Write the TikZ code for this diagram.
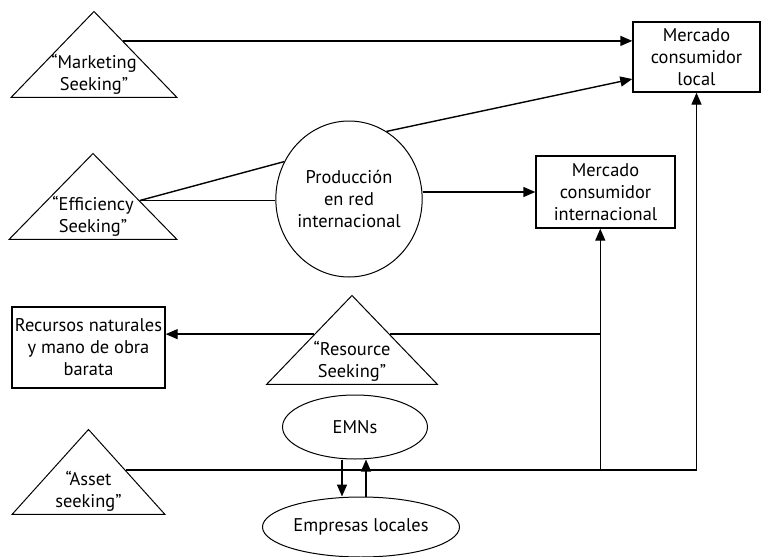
\documentclass[tikz,border=0pt]{standalone}
\usepackage{fontspec}
\setmainfont{PT Sans}
\usetikzlibrary{shapes.geometric,arrows.meta,calc}
\tikzset{
  tri/.style={draw,line width=0.5pt,isosceles triangle,isosceles triangle stretches,
    shape border rotate=90,inner sep=0pt,anchor=south},
  txt/.style={align=center,inner sep=0pt,font=\fontsize{9.2}{11}\selectfont},
  boxnode/.style={draw,line width=0.7pt,align=center,inner sep=0pt,font=\fontsize{9.2}{11}\selectfont},
  ellnode/.style={draw,line width=0.5pt,ellipse,align=center,inner sep=0pt,font=\fontsize{9.2}{11}\selectfont},
  arr/.style={line width=0.7pt,-{Triangle[length=6pt,width=5pt]}},
  con/.style={line width=0.7pt}
}
\begin{document}
\begin{tikzpicture}[x=0.5pt,y=-0.5pt]
  \useasboundingbox (0,0) rectangle (761,557);
  % triangles: name / base x / base y / width / height / text
  \foreach \id / \x / \y / \w / \h / \lb in {
      mkt/94/98/83/43/{“Marketing\\Seeking”},
      eff/93/240/84/43/{“Efficiency\\Seeking”},
      res/352/385/85.5/44.5/{“Resource\\Seeking”},
      ast/88.5/515/76.5/42.5/{“Asset\\seeking”}}{
    \node[tri,minimum width=\w pt,minimum height=\h pt] (\id) at (\x,\y) {};
    \node[txt] (\id-txt) at ([yshift=12pt]\id.south) {\lb};
  }
  \node[ellnode,minimum width=72pt,minimum height=78pt] (prod) at (349,199) {Producción\\en red\\internacional};
  \node[boxnode,minimum width=63.5pt,minimum height=35pt] (mloc) at (696.5,57) {Mercado\\consumidor\\local};
  \node[boxnode,minimum width=69.5pt,minimum height=36pt] (mint) at (605.5,192) {Mercado\\consumidor\\internacional};
  \node[boxnode,minimum width=76.5pt,minimum height=40.5pt] (rec) at (88.5,347.5) {Recursos naturales\\y mano de obra\\barata};
  \node[ellnode,minimum width=72.5pt,minimum height=32pt] (emn) at (355,427) {EMNs};
  \node[ellnode,minimum width=98.5pt,minimum height=30pt] (emp) at (361,527) {Empresas locales};
  \coordinate (j1) at (600.3,470);

  % market seeking
  \coordinate (m1) at ($(mkt.apex)!.35!(mkt.right corner)$);
  \draw[arr] (m1) -- (m1 -| mloc.west);
  % efficiency seeking
  \coordinate (e1) at ($(eff.apex)!.55!(eff.right corner)$);
  \draw[con] (e1) -- (prod.150);
  \draw[con] (e1) -- (e1 -| prod.west);
  \draw[arr] (prod.61) -- ([yshift=-11pt]mloc.west);
  \draw[arr] (mint.west -| prod.east) -- (mint.west);
  % resource seeking
  \coordinate (r1) at ($(res.apex)!.44!(res.left corner)$);
  \coordinate (r2) at ($(res.apex)!.44!(res.right corner)$);
  \draw[arr] (r1) -- (r1 -| rec.east);
  \draw[con] (r2) -- (r2 -| j1);
  % asset seeking
  \coordinate (a1) at ($(ast.apex)!.48!(ast.right corner)$);
  \draw[arr] (a1) -- (a1 -| mloc.south) -- (mloc.south);
  \draw[arr] (j1) -- (j1 |- mint.south);
  \draw[arr] ([xshift=-6.5pt]emn.south) -- ([xshift=-6.5pt]emn.south |- emp.north);
  \draw[arr] ([xshift=2.5pt]emp.north) -- ([xshift=2.5pt]emp.north |- emn.south);
\end{tikzpicture}
\end{document}
